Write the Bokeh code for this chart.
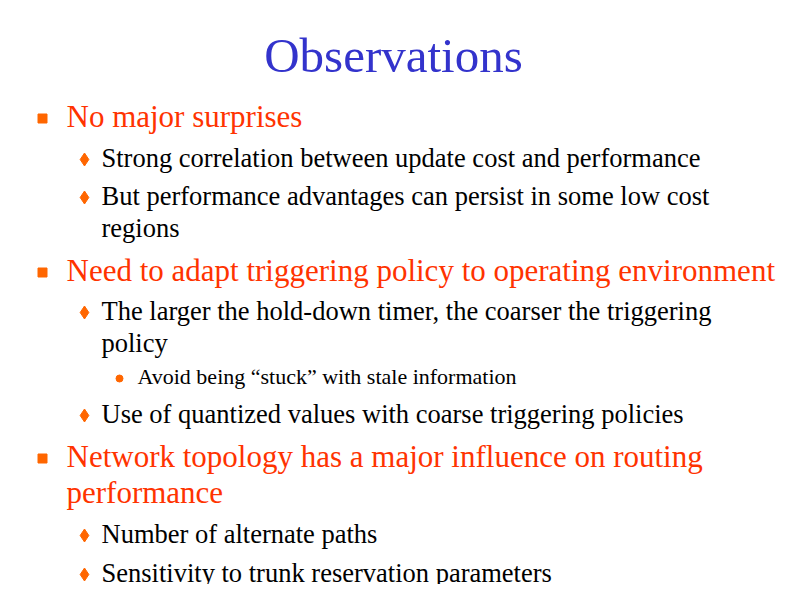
from bokeh.plotting import figure
from bokeh.models import Range1d
from bokeh.core.properties import value
from bokeh.embed import file_html
from bokeh.resources import INLINE

title = "Observations"

# (level, text lines, y of first line in page px)
items = [
    (1, ["No major surprises"], 116),
    (2, ["Strong correlation between update cost and performance"], 157),
    (2, ["But performance advantages can persist in some low cost", "regions"], 195),
    (1, ["Need to adapt triggering policy to operating environment"], 270),
    (2, ["The larger the hold-down timer, the coarser the triggering", "policy"], 310),
    (3, ["Avoid being \u201cstuck\u201d with stale information"], 376),
    (2, ["Use of quantized values with coarse triggering policies"], 413),
    (1, ["Network topology has a major influence on routing", "performance"], 456),
    (2, ["Number of alternate paths"], 533),
    (2, ["Sensitivity to trunk reservation parameters"], 572),
]

text_x = {1: 66, 2: 101, 3: 137}
bullet_x = {1: 42, 2: 84, 3: 119}
font_px = {1: "31px", 2: "26.5px", 3: "22px"}
line_gap = {1: 36, 2: 32, 3: 26}
text_color = {1: "#FF3300", 2: "#000000", 3: "#000000"}
bullet_marker = {1: "square", 2: "diamond", 3: "circle"}
bullet_size = {1: 9, 2: 13, 3: 7}

p = figure(width=784, height=584, output_backend="svg", toolbar_location=None,
           x_range=Range1d(0, 784), y_range=Range1d(584, 0))
p.axis.visible = False
p.grid.visible = False
p.outline_line_color = None
p.min_border = 0
p.background_fill_color = "white"

font = value("Liberation Serif")
p.text([393], [55], text=[title], text_font=font, text_font_size="49px",
       text_color="#3333CC", text_align="center", text_baseline="middle")

for level, lines, y0 in items:
    p.scatter([bullet_x[level]], [y0 + 2], marker=bullet_marker[level],
              size=bullet_size[level], color="#FF6600")
    ys = [y0 + i * line_gap[level] for i in range(len(lines))]
    p.text([text_x[level]] * len(lines), ys, text=lines, text_font=font,
           text_font_size=font_px[level], text_color=text_color[level],
           text_baseline="middle")

open("out.html", "w").write(file_html(p, INLINE))
